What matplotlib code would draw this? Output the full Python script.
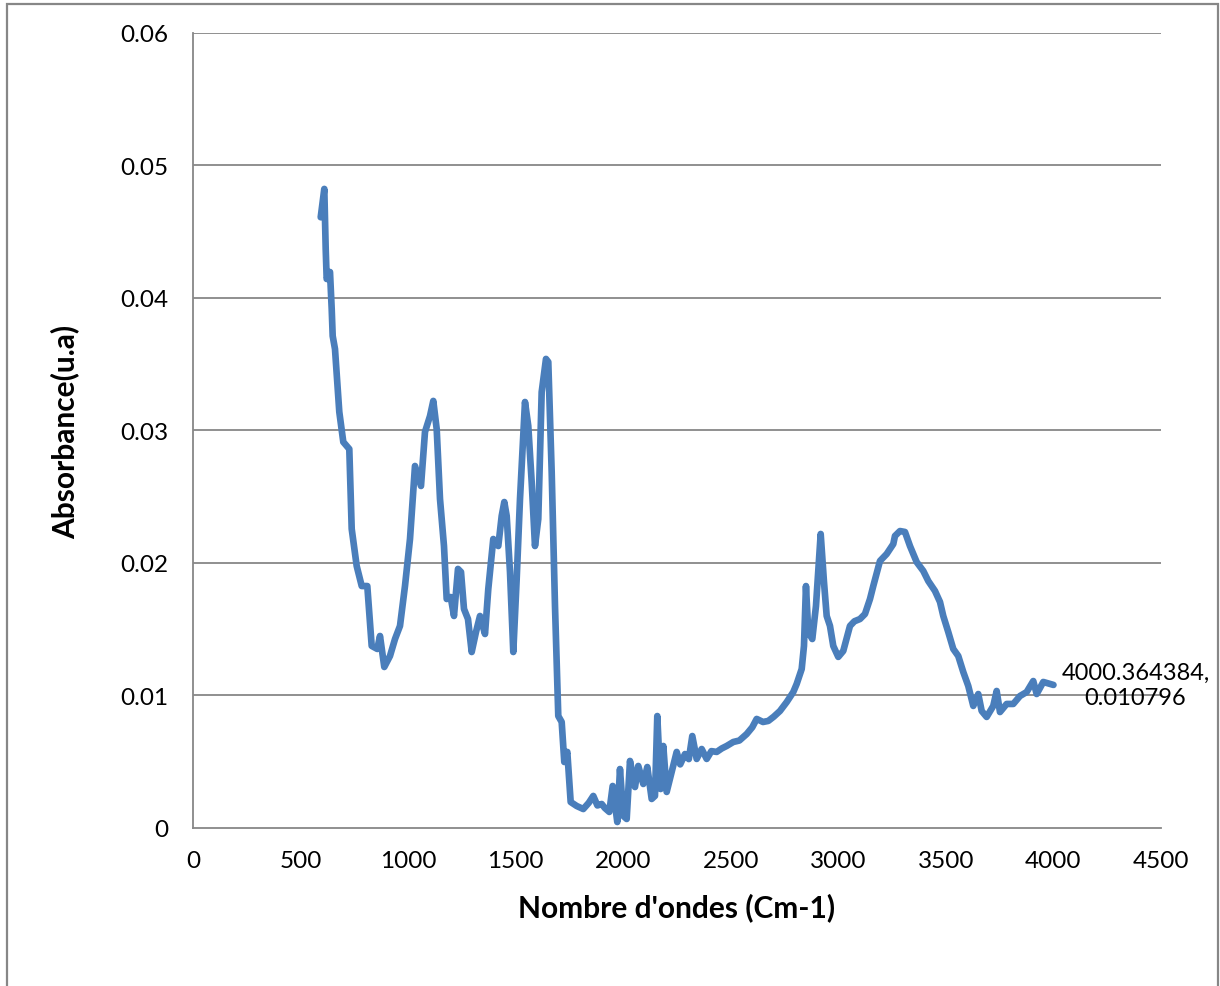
import matplotlib
matplotlib.use("Agg")
import matplotlib.pyplot as plt
from matplotlib.patches import Rectangle

plt.rcParams['font.family'] = ['Lato', 'DejaVu Sans']

# spectre IR (nombre d'ondes, absorbance)
wavenumber = [
    593.7, 610.4, 616.9, 621.5, 636.9, 644.8, 649.4, 660.1, 680.1, 698.7,
    726.6, 737.8, 761.0, 784.3, 810.3, 830.7, 856.8, 869.3, 889.3, 915.8,
    939.1, 962.3, 985.5, 1008.8, 1032.0, 1059.9, 1078.5, 1101.8, 1117.1, 1132.9,
    1148.3, 1166.8, 1179.4, 1198.0, 1213.3, 1231.9, 1245.9, 1259.8, 1278.4, 1295.6,
    1315.6, 1334.2, 1357.5, 1372.8, 1396.0, 1419.3, 1435.1, 1447.2, 1458.3, 1473.7,
    1489.0, 1504.8, 1520.2, 1543.4, 1558.7, 1574.5, 1589.9, 1605.2, 1621.0, 1641.0,
    1651.7, 1667.5, 1682.9, 1698.2, 1714.0, 1726.1, 1740.1, 1755.8, 1783.7, 1814.4,
    1840.0, 1860.9, 1880.0, 1899.9, 1915.0, 1935.3, 1951.1, 1972.5, 1985.0, 2000.4,
    2016.2, 2031.5, 2054.8, 2070.1, 2093.4, 2112.0, 2132.4, 2147.7, 2158.5, 2174.2,
    2186.4, 2202.1, 2225.4, 2248.6, 2265.0, 2287.2, 2305.0, 2321.2, 2341.6, 2364.8,
    2388.1, 2410.0, 2434.6, 2458.0, 2481.1, 2511.8, 2540.0, 2574.0, 2600.0, 2620.5,
    2650.0, 2674.5, 2700.0, 2728.8, 2760.0, 2790.7, 2806.5, 2829.8, 2840.4, 2849.7,
    2860.4, 2879.0, 2896.2, 2918.1, 2933.4, 2946.0, 2961.3, 2976.6, 2999.9, 3023.1,
    3054.3, 3075.0, 3100.8, 3124.0, 3147.3, 3162.6, 3193.7, 3224.9, 3255.6, 3263.5,
    3286.7, 3310.0, 3333.2, 3364.3, 3395.0, 3418.3, 3449.4, 3472.7, 3488.0, 3511.2,
    3534.5, 3557.7, 3581.0, 3604.2, 3627.5, 3650.7, 3666.5, 3689.7, 3720.4, 3736.2,
    3751.6, 3782.7, 3813.4, 3844.6, 3875.7, 3906.4, 3922.2, 3952.9, 3984.0, 4000.364384,
]
absorbance = [
    0.04609, 0.04823, 0.04370, 0.04143, 0.04196, 0.03917, 0.03713, 0.03615, 0.03140, 0.02913,
    0.02860, 0.02257, 0.01977, 0.01826, 0.01826, 0.01374, 0.01351, 0.01449, 0.01215, 0.01298,
    0.01426, 0.01525, 0.01826, 0.02181, 0.02732, 0.02581, 0.02989, 0.03109, 0.03223, 0.03011,
    0.02483, 0.02128, 0.01728, 0.01743, 0.01600, 0.01955, 0.01932, 0.01653, 0.01577, 0.01328,
    0.01479, 0.01600, 0.01464, 0.01804, 0.02181, 0.02128, 0.02355, 0.02460, 0.02355, 0.01932,
    0.01328, 0.01879, 0.02483, 0.03215, 0.03034, 0.02611, 0.02128, 0.02332, 0.03290, 0.03540,
    0.03517, 0.02687, 0.01675, 0.00845, 0.00800, 0.00498, 0.00574, 0.00196, 0.00166, 0.00143,
    0.00190, 0.00242, 0.00170, 0.00181, 0.00150, 0.00121, 0.00317, 0.00045, 0.00445, 0.00091,
    0.00068, 0.00506, 0.00309, 0.00468, 0.00332, 0.00460, 0.00219, 0.00242, 0.00845, 0.00294,
    0.00619, 0.00272, 0.00423, 0.00574, 0.00480, 0.00558, 0.00520, 0.00694, 0.00521, 0.00596,
    0.00521, 0.00580, 0.00574, 0.00600, 0.00619, 0.00649, 0.00660, 0.00709, 0.00760, 0.00823,
    0.00800, 0.00808, 0.00840, 0.00883, 0.00950, 0.01026, 0.01087, 0.01200, 0.01374, 0.01826,
    0.01479, 0.01426, 0.01675, 0.02219, 0.01857, 0.01600, 0.01525, 0.01374, 0.01291, 0.01336,
    0.01525, 0.01560, 0.01577, 0.01615, 0.01728, 0.01826, 0.02015, 0.02068, 0.02143, 0.02204,
    0.02241, 0.02234, 0.02128, 0.02007, 0.01940, 0.01864, 0.01789, 0.01706, 0.01600, 0.01479,
    0.01351, 0.01298, 0.01177, 0.01072, 0.00921, 0.01011, 0.00883, 0.00838, 0.00921, 0.01034,
    0.00875, 0.00936, 0.00936, 0.00996, 0.01026, 0.01109, 0.01011, 0.01102, 0.01087, 0.010796,
]

x_ticks = [0, 500, 1000, 1500, 2000, 2500, 3000, 3500, 4000, 4500]
y_ticks = [0, 0.01, 0.02, 0.03, 0.04, 0.05, 0.06]
y_tick_labels = ['0', '0.01', '0.02', '0.03', '0.04', '0.05', '0.06']

grey = '#878787'
blue = '#4A7EBB'

fig = plt.figure(figsize=(12.2, 9.87), dpi=100, facecolor='white')
ax = fig.add_axes([0.1582, 0.1601, 0.7934, 0.8055])

# cadre du graphique (le bas sort de l'image)
fig.patches.append(Rectangle((7 / 1220, -0.05), 1211 / 1220, 1.05 - 5 / 987,
                             transform=fig.transFigure, fill=False,
                             edgecolor=grey, linewidth=1.6))

for y in y_ticks[1:]:
    ax.axhline(y, color=grey, linewidth=1.3, zorder=1)

ax.plot(wavenumber, absorbance, color=blue, linewidth=4.8,
        solid_joinstyle='round', solid_capstyle='round', zorder=3)

ax.annotate('4000.364384,\n0.010796', xy=(wavenumber[-1], absorbance[-1]),
            xytext=(59, 0), textcoords='offset points', ha='center', va='center',
            fontsize=17, linespacing=1.3, annotation_clip=False)

ax.set_xlim(0, 4500)
ax.set_ylim(0, 0.06)
ax.set_xticks(x_ticks)
ax.set_yticks(y_ticks)
ax.set_yticklabels(y_tick_labels)
ax.tick_params(axis='both', length=0, labelsize=17.5)
ax.tick_params(axis='y', pad=18)
ax.tick_params(axis='x', pad=16)

for side in ['top', 'right']:
    ax.spines[side].set_visible(False)
for side in ['left', 'bottom']:
    ax.spines[side].set_color(grey)
    ax.spines[side].set_linewidth(1.3)

ax.set_xlabel("Nombre d'ondes (Cm-1)", fontsize=21.5, fontweight='bold', labelpad=15)
ax.set_ylabel('Absorbance(u.a)', fontsize=21.5, fontweight='bold', labelpad=29)

fig.savefig('out.png', dpi=100, facecolor='white')
